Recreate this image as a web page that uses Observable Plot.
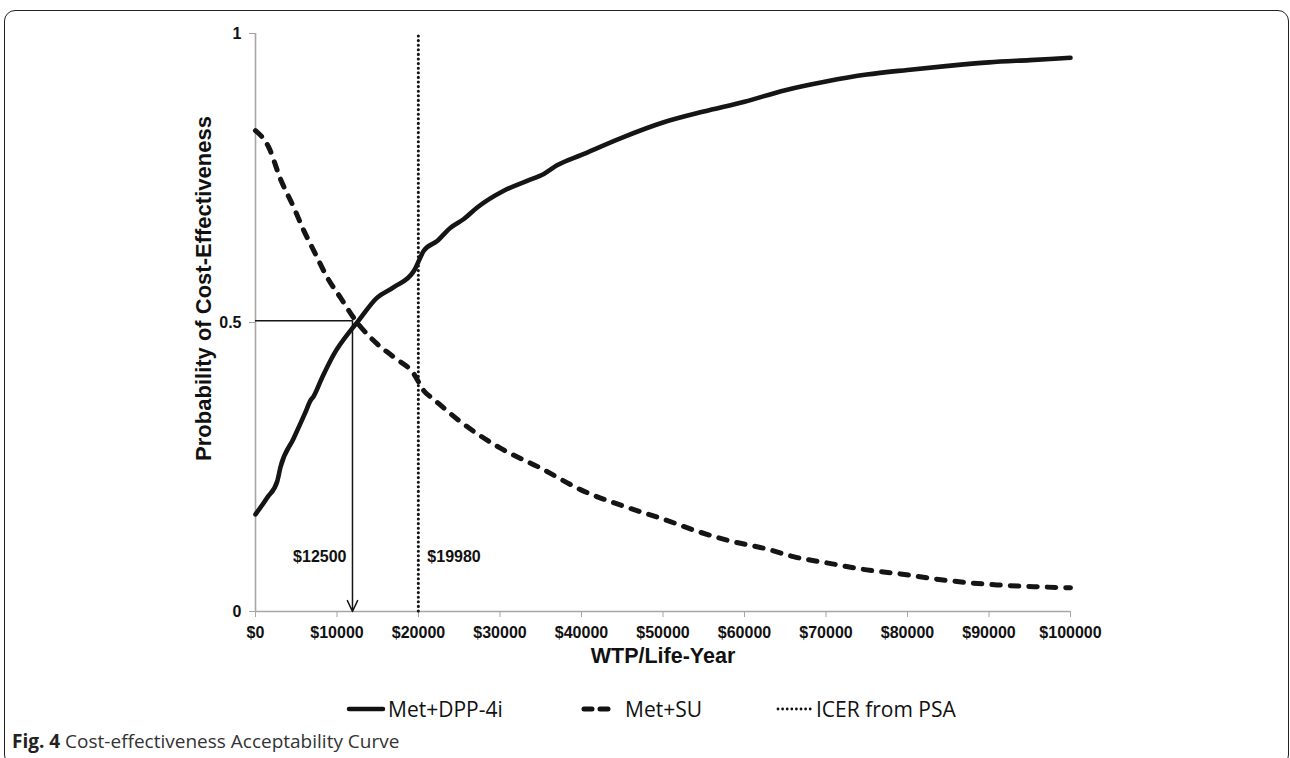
<!DOCTYPE html>
<html>
<head>
<meta charset="utf-8">
<script src="https://cdn.jsdelivr.net/npm/d3@7"></script>
<script src="https://cdn.jsdelivr.net/npm/@observablehq/plot@0.6"></script>
<style>
  html, body { margin: 0; padding: 0; background: #fff; }
  #wrap { position: relative; width: 1290px; height: 758px; overflow: hidden; background: #fff; }
  #frame { position: absolute; left: 4px; top: 10px; width: 1285px; height: 756px; border: 1.5px solid #222; border-radius: 11px; box-sizing: border-box; }
  #chart { position: absolute; left: 0; top: 0; }
  .legend { position: absolute; top: 695px; left: 0; width: 1290px; height: 28px; font-family: "Open Sans", sans-serif; font-size: 21px; color: #111; }
  .item { position: absolute; top: 0; display: flex; align-items: center; height: 28px; }
  #caption { position: absolute; left: 12px; top: 728px; font-family: "Open Sans", sans-serif; font-size: 19px; color: #333; white-space: nowrap; }
  #caption b { color: #222; }
</style>
</head>
<body>
<div id="wrap">
  <div id="frame"></div>
  <div id="chart"></div>
  <div class="legend">
    <div class="item" style="left:346px"><svg width="40" height="10"><line x1="3" y1="5" x2="37" y2="5" stroke="#111" stroke-width="4.5" stroke-linecap="round"/></svg><span style="margin-left:2px">Met+DPP-4i</span></div>
    <div class="item" style="left:581px"><svg width="32" height="10"><line x1="3" y1="5" x2="29" y2="5" stroke="#111" stroke-width="5" stroke-linecap="round" stroke-dasharray="8,8"/></svg><span style="margin-left:12px">Met+SU</span></div>
    <div class="item" style="left:775px"><svg width="40" height="10"><line x1="3" y1="5" x2="38" y2="5" stroke="#111" stroke-width="2.8" stroke-linecap="round" stroke-dasharray="0,4.6"/></svg><span style="margin-left:1px">ICER from PSA</span></div>
  </div>
  <div id="caption"><b>Fig. 4</b> Cost-effectiveness Acceptability Curve</div>
</div>
<script>
// WTP thresholds ($ per life-year) and probabilities
const dppWtp = [0, 1430, 2660, 3070, 4660, 6135, 6750, 7120, 8180, 9610, 11660, 12470, 14930, 16970, 19430, 20650, 22290, 23930, 25560, 27200, 30470, 33330, 35380, 37000, 40000, 45000, 50000, 55000, 60000, 65000, 70000, 75000, 80000, 85000, 90000, 95000, 100000];
const dppProb = [0.168, 0.197, 0.225, 0.25, 0.299, 0.345, 0.365, 0.372, 0.405, 0.445, 0.486, 0.5, 0.543, 0.561, 0.589, 0.624, 0.641, 0.664, 0.679, 0.699, 0.728, 0.745, 0.757, 0.772, 0.79, 0.82, 0.846, 0.865, 0.882, 0.902, 0.917, 0.929, 0.937, 0.944, 0.950, 0.954, 0.958];

const suWtp = [0, 1630, 3070, 4700, 5930, 7160, 8800, 10430, 12470, 14930, 16970, 19430, 20650, 21880, 25000, 30000, 35000, 40000, 45000, 50000, 54600, 58000, 62780, 66000, 70960, 75000, 79140, 83000, 87320, 91000, 95500, 100000];
const suProb = [0.832, 0.803, 0.748, 0.699, 0.659, 0.624, 0.578, 0.543, 0.5, 0.463, 0.44, 0.411, 0.382, 0.367, 0.33, 0.283, 0.248, 0.210, 0.183, 0.160, 0.137, 0.123, 0.108, 0.095, 0.082, 0.072, 0.065, 0.057, 0.050, 0.046, 0.043, 0.041];

const icer = 19980;          // ICER from PSA
const crossWtp = 11900;      // where the curves cross (arrow)
const crossProb = 0.503;
const crossLabel = "$12500";
const icerLabel = "$19980";

const xTicks = [0, 10000, 20000, 30000, 40000, 50000, 60000, 70000, 80000, 90000, 100000];
const yTicks = [0, 0.5, 1];

const dpp = dppWtp.map((x, i) => ({x, y: dppProb[i]}));
const su = suWtp.map((x, i) => ({x, y: suProb[i]}));

const axisGray = "#a6a6a6";
const ink = "#151515";

const chart = Plot.plot({
  width: 1290,
  height: 680,
  marginLeft: 255,
  marginRight: 220,
  marginTop: 33,
  marginBottom: 69,
  style: {fontFamily: "'Liberation Sans', Arial, sans-serif", fontSize: "16px", fontWeight: "bold", background: "transparent", color: "#111"},
  x: {domain: [0, 100000]},
  y: {domain: [0, 1]},
  marks: [
    Plot.ruleX([0], {stroke: axisGray, strokeWidth: 1.6}),
    Plot.ruleY([0], {stroke: axisGray, strokeWidth: 1.6}),
    Plot.axisX({ticks: xTicks, tickFormat: d => "$" + d, tickSize: 6, stroke: axisGray, fill: "#111", tickPadding: 9, label: null, fontSize: 16}),
    Plot.axisY({ticks: yTicks, tickFormat: d => String(d), tickSize: 6, stroke: axisGray, fill: "#111", tickPadding: 8, label: null, fontSize: 16}),
    Plot.text(["WTP/Life-Year"], {frameAnchor: "bottom", text: d => d, dy: 51, fontSize: 21.5, fill: "#111"}),
    Plot.text(["Probability of Cost-Effectiveness"], {frameAnchor: "left", textAnchor: "middle", text: d => d, rotate: -90, dx: -52, dy: -34, fontSize: 22, fill: "#111"}),
    Plot.ruleX([icer], {y1: 0, y2: 1, stroke: ink, strokeWidth: 3.1, strokeDasharray: "0,4.6", strokeLinecap: "round"}),
    Plot.ruleY([crossProb], {x1: 0, x2: crossWtp, stroke: ink, strokeWidth: 1.5}),
    Plot.arrow([{x1: crossWtp, y1: crossProb, x2: crossWtp, y2: 0}], {x1: "x1", y1: "y1", x2: "x2", y2: "y2", stroke: ink, strokeWidth: 1.5, headLength: 12, headAngle: 50}),
    Plot.line(su, {x: "x", y: "y", curve: "monotone-x", stroke: ink, strokeWidth: 5, strokeDasharray: "8.5,10", strokeLinecap: "round"}),
    Plot.line(dpp, {x: "x", y: "y", curve: "monotone-x", stroke: ink, strokeWidth: 4.6, strokeLinecap: "round"}),
    Plot.text([crossLabel], {x: crossWtp, y: 0.095, text: d => d, textAnchor: "end", dx: -6, fontSize: 16, fill: "#111"}),
    Plot.text([icerLabel], {x: icer, y: 0.095, text: d => d, textAnchor: "start", dx: 9, fontSize: 16, fill: "#111"})
  ]
});
document.getElementById("chart").appendChild(chart);
</script>
</body>
</html>
